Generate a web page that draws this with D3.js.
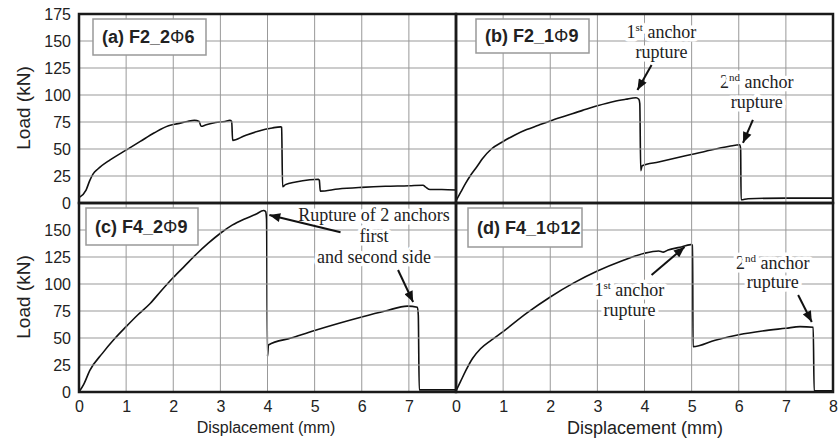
<!DOCTYPE html>
<html lang="en">
<head>
<meta charset="UTF-8">
<title>Load - displacement curves</title>
<script src="https://cdn.jsdelivr.net/npm/d3@7"></script>
<style>
  body { margin: 0; background: #fff; }
  svg text { font-family: "Liberation Sans", Arial, sans-serif; fill: #222; }
  .serif { font-family: "Liberation Serif", "Times New Roman", serif !important; }
  .halo { paint-order: stroke; stroke: #fff; stroke-width: 7px; stroke-linejoin: round; }
</style>
</head>
<body>
<div id="container"></div>
<script>
// tick labels
const xTicksLeft = [0, 1, 2, 3, 4, 5, 6, 7];
const xTicksRight = [0, 1, 2, 3, 4, 5, 6, 7, 8];
const yTicksTop = [0, 25, 50, 75, 100, 125, 150, 175];
const yTicksBottom = [0, 25, 50, 75, 100, 125, 150];
const xGrid = [1, 2, 3, 4, 5, 6, 7];
const yGrid = [25, 50, 75, 100, 125, 150];

// [displacement mm, load kN]
const curveA = [[0,5],[0.15,12],[0.23,21],[0.3,27],[0.4,31.5],[0.66,40],[1.0,49],[1.3,57],[1.6,65],
  [1.9,71.5],[2.1,73.5],[2.3,75.5],[2.45,76.5],[2.55,75.5],[2.59,71],[2.7,72.5],[2.9,74.5],[3.1,75.5],
  [3.2,76.5],[3.24,75.5],[3.26,58],[3.5,62],[3.8,66.5],[4.1,69.5],[4.28,70.5],[4.3,70],[4.32,15],
  [4.38,17],[4.6,19.5],[4.9,21.5],[5.08,22],[5.1,21],[5.12,11],[5.5,13],[6,14.5],[6.5,15.5],[7,16],
  [7.3,16.5],[7.35,15],[7.45,12.5],[7.7,12.5],[8,12]];
const curveB = [[0,2],[0.1,10],[0.2,18],[0.3,25],[0.45,34],[0.56,41],[0.75,50],[1.0,57],[1.25,63],
  [1.5,68],[1.75,72],[2.0,76],[2.35,81],[2.7,86],[3.0,90],[3.35,94],[3.6,96],[3.82,97.5],[3.88,96],
  [3.9,92],[3.92,30],[3.95,34.5],[4.3,38],[4.8,43],[5.3,48],[5.8,52.5],[6.02,54],[6.04,50],[6.05,3],
  [6.2,4],[7,4.5],[8,4.5]];
const curveC = [[0,0],[0.1,7],[0.23,20],[0.5,36],[0.75,49],[1.0,60.5],[1.25,71.5],[1.51,82],[1.75,94],
  [2.0,106],[2.25,117],[2.5,128],[2.75,138],[3.0,147],[3.25,154.5],[3.5,160],[3.75,164.5],[3.92,168],
  [3.96,167],[3.98,160],[4.0,33],[4.02,43.5],[4.5,50],[5.0,57],[5.5,63.5],[6.0,69.5],[6.5,75],
  [6.97,79.5],[7.18,78.5],[7.2,71],[7.22,2],[7.4,2],[8,2]];
const curveD = [[0,1],[0.1,10],[0.21,20],[0.35,31],[0.52,40],[0.75,48],[1.0,56],[1.5,73],[2.0,88],
  [2.5,101],[3.0,112],[3.5,121],[4.0,128.5],[4.3,130.5],[4.4,129.5],[4.5,131.5],[4.75,134],[4.98,136.5],
  [5.02,136],[5.03,42],[5.5,48],[6.0,53],[6.5,56.5],[7.0,59],[7.3,60.5],[7.58,60],[7.6,1],[8,1]];

const labels = ["(a) F2_2Φ6", "(b) F2_1Φ9", "(c) F4_2Φ9", "(d) F4_1Φ12"];

// annotation text: lines are [text, x mm, baseline kN], "^" marks a superscript
const notesB = [["1^st anchor", 4.36, 152.8], ["rupture", 4.36, 134.3],
                ["2^nd anchor", 6.38, 106.5], ["rupture", 6.38, 88]];
const notesC = [["Rupture of 2 anchors", 6.26, 158.3], ["first", 6.26, 138.9], ["and second side", 6.26, 119.4]];
const notesD = [["1^st anchor", 3.68, 88.9], ["rupture", 3.68, 70.4],
                ["2^nd anchor", 6.72, 113.9], ["rupture", 6.72, 96.3]];
// arrows: [from x, from y, to x, to y] in mm / kN
const arrowsB = [[4.15, 127.8, 3.85, 104.6], [6.30, 76.9, 6.09, 55.6]];
const arrowsC = [[5.55, 148, 4.04, 163.9], [6.77, 113, 7.09, 83.3]];
const arrowsD = [[4.15, 108.3, 4.85, 134.3], [7.26, 89.8, 7.55, 64.8]];

let svg = d3.select('#container')
  .append('svg')
  .attr('width', 840)
  .attr('height', 445);

let xLeft = d3.scaleLinear().domain([0, 8]).range([79, 456]);
let xRight = d3.scaleLinear().domain([0, 8]).range([456, 833]);
let yTop = d3.scaleLinear().domain([0, 175]).range([203, 14]);
let yBottom = d3.scaleLinear().domain([0, 175]).range([392, 203]);

const panels = [
  {id: 'a', data: curveA, x: xLeft, y: yTop, label: labels[0], box: [93, 19, 113, 36], notes: [], arrows: []},
  {id: 'b', data: curveB, x: xRight, y: yTop, label: labels[1], box: [476, 19, 113, 34], notes: notesB, arrows: arrowsB},
  {id: 'c', data: curveC, x: xLeft, y: yBottom, label: labels[2], box: [86, 208, 112, 37], notes: notesC, arrows: arrowsC},
  {id: 'd', data: curveD, x: xRight, y: yBottom, label: labels[3], box: [468, 208, 114, 39], notes: notesD, arrows: arrowsD}
];

// layers, bottom to top
let defs = svg.append('defs');
let curveLayer = svg.append('g');
let gridLayer = svg.append('g');
let textLayer = svg.append('g');
let arrowLayer = svg.append('g');
let frameLayer = svg.append('g');

defs.append('marker')
  .attr('id', 'head')
  .attr('viewBox', '0 0 12 10')
  .attr('refX', 12).attr('refY', 5)
  .attr('markerWidth', 12).attr('markerHeight', 9)
  .attr('markerUnits', 'userSpaceOnUse')
  .attr('orient', 'auto')
  .append('path').attr('d', 'M0,0L12,5L0,10Z').attr('fill', '#111');

panels.forEach(p => {
  let x0 = p.x(0), x1 = p.x(8), y0 = p.y(175), y1 = p.y(0);

  // curve
  defs.append('clipPath').attr('id', 'clip-' + p.id)
    .append('rect').attr('x', x0).attr('y', y0).attr('width', x1 - x0).attr('height', y1 - y0);
  let line = d3.line()
    .x(d => p.x(d[0]))
    .y(d => p.y(d[1]))
    .curve(d3.curveMonotoneX);
  curveLayer.append('path')
    .datum(p.data)
    .attr('d', line)
    .attr('clip-path', 'url(#clip-' + p.id + ')')
    .attr('fill', 'none')
    .attr('stroke', '#111')
    .attr('stroke-width', 1.6)
    .attr('stroke-linejoin', 'round');

  // grid
  xGrid.forEach(v => {
    gridLayer.append('line')
      .attr('x1', p.x(v)).attr('x2', p.x(v))
      .attr('y1', y0).attr('y2', y1)
      .attr('stroke', '#999').attr('stroke-width', 1);
  });
  yGrid.forEach(v => {
    gridLayer.append('line')
      .attr('x1', x0).attr('x2', x1)
      .attr('y1', p.y(v)).attr('y2', p.y(v))
      .attr('stroke', '#999').attr('stroke-width', 1);
  });

  // label box
  textLayer.append('rect')
    .attr('x', p.box[0]).attr('y', p.box[1])
    .attr('width', p.box[2]).attr('height', p.box[3])
    .attr('fill', '#fff').attr('stroke', '#999').attr('stroke-width', 1.5);
  let parts = p.label.split('Φ');
  let lt = textLayer.append('text')
    .attr('x', p.box[0] + 9).attr('y', p.box[1] + p.box[3] / 2 + 6)
    .attr('font-size', 18).attr('font-weight', 'bold');
  lt.append('tspan').text(parts[0]);
  lt.append('tspan').attr('font-weight', 'normal').text('Φ');
  lt.append('tspan').text(parts[1]);

  // notes, white halo hides the grid behind them
  p.notes.forEach(n => {
    let t = textLayer.append('text')
      .attr('class', 'serif halo')
      .attr('x', p.x(n[1])).attr('y', p.y(n[2]))
      .attr('text-anchor', 'middle')
      .attr('font-size', 18);
    let s = n[0].split(/\^(st|nd)/);
    if (s.length > 1) {
      t.append('tspan').text(s[0]);
      t.append('tspan').attr('font-size', 11).attr('dy', -7).text(s[1]);
      t.append('tspan').attr('dy', 7).text(s[2]);
    } else {
      t.text(n[0]);
    }
  });

  // arrows
  p.arrows.forEach(a => {
    arrowLayer.append('line')
      .attr('x1', p.x(a[0])).attr('y1', p.y(a[1]))
      .attr('x2', p.x(a[2])).attr('y2', p.y(a[3]))
      .attr('stroke', '#111').attr('stroke-width', 2)
      .attr('marker-end', 'url(#head)');
  });

  // frame
  frameLayer.append('rect')
    .attr('x', x0).attr('y', y0)
    .attr('width', x1 - x0).attr('height', y1 - y0)
    .attr('fill', 'none').attr('stroke', '#1a1a1a').attr('stroke-width', 2.5);
});

// axes
function styleAxis(sel) {
  sel.select('.domain').remove();
  sel.selectAll('text').attr('font-size', 16).attr('fill', '#222');
}
svg.append('g').attr('transform', 'translate(79,0)')
  .call(d3.axisLeft(yTop).tickValues(yTicksTop).tickSize(0).tickPadding(8))
  .call(styleAxis);
svg.append('g').attr('transform', 'translate(79,0)')
  .call(d3.axisLeft(yBottom).tickValues(yTicksBottom).tickSize(0).tickPadding(8))
  .call(styleAxis);
svg.append('g').attr('transform', 'translate(0,392)')
  .call(d3.axisBottom(xLeft).tickValues(xTicksLeft).tickSize(0).tickPadding(9))
  .call(styleAxis);
svg.append('g').attr('transform', 'translate(0,392)')
  .call(d3.axisBottom(xRight).tickValues(xTicksRight).tickSize(0).tickPadding(9))
  .call(styleAxis);

// axis titles
svg.append('text').attr('x', 266).attr('y', 433)
  .attr('text-anchor', 'middle').attr('font-size', 16).text('Displacement (mm)');
svg.append('text').attr('x', 645).attr('y', 434)
  .attr('text-anchor', 'middle').attr('font-size', 18).text('Displacement (mm)');
[108, 297].forEach(cy => {
  svg.append('text')
    .attr('transform', 'translate(30,' + cy + ') rotate(-90)')
    .attr('text-anchor', 'middle').attr('font-size', 19).text('Load (kN)');
});
</script>
</body>
</html>
